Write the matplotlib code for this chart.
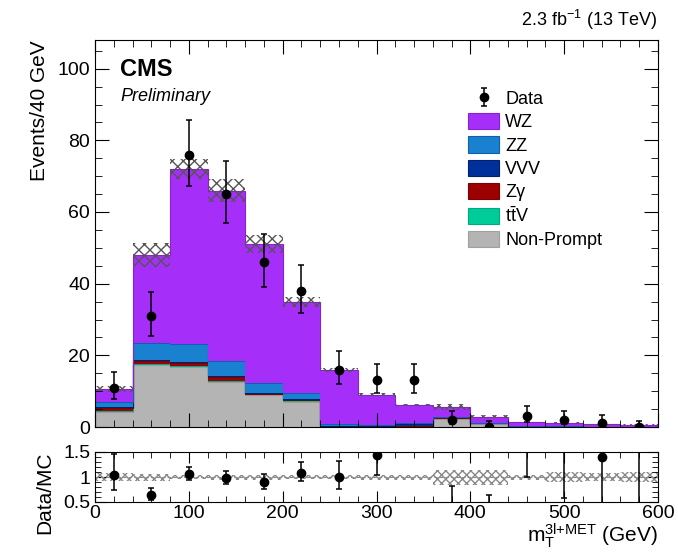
import numpy as np
import matplotlib
matplotlib.use("Agg")
import matplotlib.pyplot as plt
from matplotlib.ticker import MultipleLocator
from matplotlib.patches import Patch

plt.rcParams['font.family'] = ['Liberation Sans', 'DejaVu Sans']
plt.rcParams['mathtext.fontset'] = 'custom'
plt.rcParams['mathtext.rm'] = 'Liberation Sans'
plt.rcParams['mathtext.it'] = 'Liberation Sans:italic'

# ---- data ----
bin_edges = [0, 40, 80, 120, 160, 200, 240, 280, 320, 360, 400, 440, 480, 520, 560, 600]
nonprompt = [4.2, 17.3, 16.7, 12.5, 8.8, 7.1, 0.1, 0.0, 0.0, 2.3, 0.8, 0.0, 0.0, 0.0, 0.0]
ttv       = [0.2, 0.3, 0.3, 0.3, 0.5, 0.5, 0.05, 0.1, 0.4, 0.3, 0.2, 0.05, 0.05, 0.02, 0.02]
zgamma    = [0.8, 0.7, 0.9, 1.1, 0.0, 0.0, 0.0, 0.0, 0.0, 0.0, 0.0, 0.0, 0.0, 0.0, 0.0]
vvv       = [0.3, 0.3, 0.3, 0.3, 0.3, 0.3, 0.1, 0.2, 0.3, 0.1, 0.1, 0.05, 0.05, 0.02, 0.02]
zz        = [1.5, 4.9, 4.9, 4.2, 2.6, 1.7, 0.5, 0.3, 0.3, 0.2, 0.1, 0.1, 0.1, 0.05, 0.05]
wz        = [3.5, 24.5, 48.9, 47.6, 38.8, 25.4, 15.2, 8.4, 5.1, 2.7, 1.6, 1.2, 1.0, 0.62, 0.6]
mc_rel_unc = [0.08, 0.07, 0.04, 0.05, 0.05, 0.04, 0.04, 0.05, 0.05, 0.15, 0.15, 0.05, 0.10, 0.08, 0.10]

data      = [11, 31, 76, 65, 46, 38, 16, 13, 13, 2, 0, 3, 2, 1, 0]
data_err_lo = [3.3, 5.5, 8.7, 8.0, 6.8, 6.1, 4.0, 3.6, 3.6, 1.3, 0.0, 1.6, 1.3, 0.8, 0.0]
data_err_hi = [4.4, 6.6, 9.8, 9.1, 7.8, 7.2, 5.1, 4.7, 4.7, 2.6, 1.8, 2.9, 2.6, 2.3, 1.8]

samples = [("Non-Prompt", nonprompt, "#b4b4b4"),
           ("t$\\bar{\\rm t}$V", ttv, "#00cc99"),
           ("Zγ", zgamma, "#9c0000"),
           ("VVV", vvv, "#00309a"),
           ("ZZ", zz, "#1a80d0"),
           ("WZ", wz, "#a52ff8")]

edges = np.array(bin_edges, float)
centers = 0.5 * (edges[:-1] + edges[1:])
widths = np.diff(edges)

fig = plt.figure(figsize=(6.78, 5.54), dpi=100)
W, H = 678.0, 554.0
ax = fig.add_axes([95 / W, 1 - 427 / H, 563 / W, 387 / H])
rax = fig.add_axes([95 / W, 1 - 502 / H, 563 / W, 50 / H])

# stack
base = np.zeros(len(centers))
darker = {"#b4b4b4": "#a0a0a0", "#00cc99": "#00aa80", "#9c0000": "#800000",
          "#00309a": "#002070", "#1a80d0": "#1060b0", "#a52ff8": "#8a20d0"}
for name, vals, col in samples:
    v = np.array(vals, float)
    top = base + v
    ax.stairs(top, edges, baseline=base, fill=True, color=col, lw=0)
    ax.stairs(top, edges, baseline=None, color=darker[col], lw=0.8)
    base = top
total = base

unc = np.array(mc_rel_unc) * total
ax.bar(centers, 2 * unc, bottom=total - unc, width=widths, fill=False,
       hatch='xxx', edgecolor='#555555', linewidth=0)

d = np.array(data, float)
eb = ax.errorbar(centers, d, yerr=[data_err_lo, data_err_hi], fmt='o', color='black',
                 ms=6, capsize=2, elinewidth=1.1, capthick=1.1, zorder=5, clip_on=True)

ax.set_xlim(0, 600)
ax.set_ylim(0, 108)
ax.xaxis.set_major_locator(MultipleLocator(100))
ax.xaxis.set_minor_locator(MultipleLocator(20))
ax.yaxis.set_major_locator(MultipleLocator(20))
ax.yaxis.set_minor_locator(MultipleLocator(5))
ax.tick_params(which='both', direction='in', top=True, right=True, labelbottom=False, labelsize=14)
ax.tick_params(which='major', length=10)
ax.tick_params(which='minor', length=5)
ax.set_ylabel("Events/40 GeV", fontsize=15, loc='top', labelpad=6)

ax.text(0.045, 0.925, "CMS", transform=ax.transAxes, fontsize=17, fontweight='bold', va='center', ha='left')
ax.text(0.045, 0.855, "Preliminary", transform=ax.transAxes, fontsize=13, style='italic', va='center', ha='left')
fig.text(657 / W, 1 - 20 / H, "2.3 fb$^{-1}$ (13 TeV)", fontsize=13, ha='right', va='center')

handles = [eb]
labels = ["Data"]
for name, vals, col in reversed(samples):
    handles.append(Patch(facecolor=col, edgecolor=darker[col], lw=0.8))
    labels.append(name)
leg = ax.legend(handles, labels, loc='upper left', bbox_to_anchor=(0.65, 0.89),
                frameon=False, fontsize=13, handlelength=1.7, handleheight=1.0,
                labelspacing=0.28, handletextpad=0.35, borderaxespad=0)

# ratio
ratio = d / total
r_lo = np.array(data_err_lo) / total
r_hi = np.array(data_err_hi) / total
rel = np.array(mc_rel_unc)
rax.bar(centers, 2 * rel, bottom=1 - rel, width=widths, fill=False,
        hatch='xxxx', edgecolor='#888888', linewidth=0)
rax.axhline(1.0, color='#888888', lw=0.8, ls=(0, (3, 2)))
rax.errorbar(centers, ratio, yerr=[r_lo, r_hi], fmt='o', color='black', ms=6,
             capsize=2, elinewidth=1.1, capthick=1.1, zorder=5)
rax.set_xlim(0, 600)
rax.set_ylim(0.5, 1.5)
rax.set_yticks([0.5, 1.0, 1.5])
rax.set_yticklabels(["0.5", "1", "1.5"])
rax.xaxis.set_major_locator(MultipleLocator(100))
rax.xaxis.set_minor_locator(MultipleLocator(20))
rax.yaxis.set_minor_locator(MultipleLocator(0.1))
rax.tick_params(which='both', direction='in', top=True, right=True, labelsize=14)
rax.tick_params(which='major', length=8)
rax.tick_params(which='minor', length=4)
rax.tick_params(axis='x', pad=2)
rax.set_ylabel("Data/MC", fontsize=15, loc='top', labelpad=6)
rax.set_xlabel("m$_{\\rm T}^{\\rm 3l{+}MET}$ (GeV)", fontsize=15, loc='right', labelpad=0)

fig.savefig("out.png", dpi=100)
